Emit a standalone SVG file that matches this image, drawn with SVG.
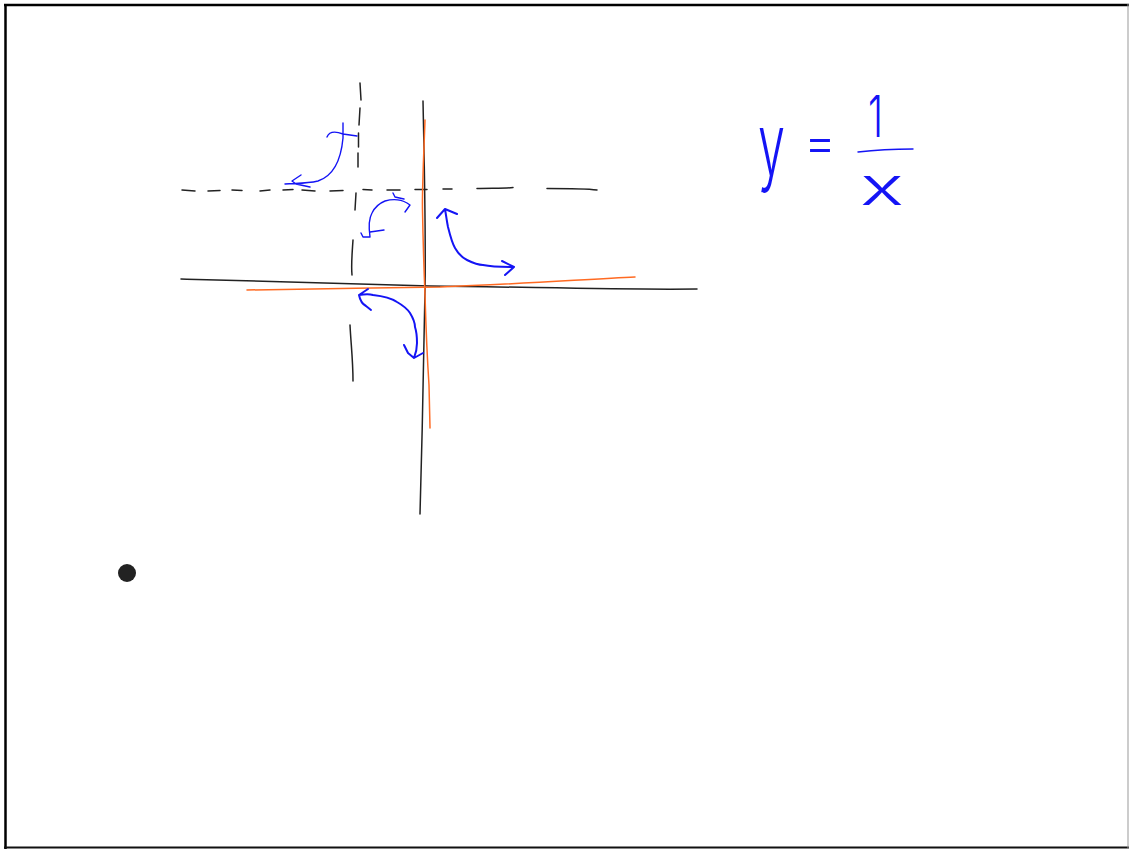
<svg xmlns="http://www.w3.org/2000/svg" width="1129" height="849" viewBox="0 0 1129 849">
<style>
.ink{fill:none;stroke:#222;stroke-width:1.5;stroke-linecap:round;stroke-linejoin:round}
.org{fill:none;stroke:#ff6a22;stroke-width:1.5;stroke-linecap:round;stroke-linejoin:round}
.blu{fill:none;stroke:#1414f5;stroke-width:1.4;stroke-linecap:round;stroke-linejoin:round}
.blu2{fill:none;stroke:#1414f5;stroke-width:2;stroke-linecap:round;stroke-linejoin:round}
.hand{font-family:Inter,"DejaVu Sans",sans-serif;font-weight:300;fill:#1414f5}
</style>
<rect x="0" y="0" width="1129" height="849" fill="#fff"/>
<g id="frame">
<path d="M4,5 H1129" stroke="#000" stroke-width="2.5" fill="none"/>
<path d="M5.5,4 V849" stroke="#000" stroke-width="2.5" fill="none"/>
<path d="M4,847.5 H1129" stroke="#111" stroke-width="2" fill="none"/>
<path d="M1128,4 V849" stroke="#999" stroke-width="1" fill="none"/>
</g>
<g id="asymptotes">
<path class="ink" d="M182,190 L195,191 M208,191 L220,190.5 M232,190 L242,190.5 M260,191 L270,190 M283,190 L293,189.5 M302,190 L315,191 M330,191 L343,190.5 M363,189.5 L372,190 M387,190 L400,190 M415,189.5 L427,189.5 M443,189 L452,189 M477,188.5 C490,188 505,188.5 513,187.5 M547,188.5 C565,188.5 585,188.5 597,190"/>
<path class="ink" d="M360,83 L361,100 M360,108 L359,125 M358.5,133 L358.5,147 M358,153 L358,167 M356,193 L355,210 M353,240 C352,255 351,265 352,275 M350,325 C351,345 353,360 353,381"/>
</g>
<g id="axes">
<path class="ink" d="M423,101 C424,150 426,230 425,290 C424,360 422,440 420,514"/>
<path class="ink" d="M181,279 C280,282 380,285 430,286 C530,287 620,290 697,289"/>
</g>
<g id="graph">
<path class="org" d="M425,120 C424,150 422,190 422.5,210 C423,240 424,270 425,295 C426,330 428,370 429,385 L430,428"/>
<path class="org" d="M247,290 C300,289 380,288 440,287 C520,284 590,279 635,277"/>
</g>
<g id="arrows">
<path class="blu" d="M343,123 L343,138 C341,160 333,176 318,181 C305,184 295,183 285,184 M301,175 L292,181 L296,184 L310,187 M327,137 C329,132 335,131 343,134 L357,136"/>
<path class="blu" d="M370,237 C369,230 368,220 372,213 C375,207 380,203 385,201 C392,199 400,199 407,203 L410,205 L405,212 M393,193 L395,197 L404,199 M361,233 L363,237 L370,237 M370,232 L384,230"/>
<path class="blu2" d="M437,218 L445,209 L457,214 M445,209 C446,215 447,222 448,227 C450,235 452,243 455,248 C459,255 463,258 467,260 C473,263 478,265 483,265 C493,267 503,267 514,267 M502,261 L514,267 L505,275"/>
<path class="blu2" d="M368,289 L359,295 C360,300 362,304 366,306 L371,310 M359,295 C365,294 370,294 373,295 C382,296 391,298 397,302 C404,306 408,310 410,313 C413,318 415,323 415,327 C417,333 417,338 417,343 C417,348 416,353 414,358 M404,345 L408,353 L414,358 L423,353"/>
</g>
<g id="equation">
<text class="hand" x="758" y="175" font-size="86" textLength="27" lengthAdjust="spacingAndGlyphs">y</text>
<text class="hand" x="804" y="160" font-size="50" textLength="32" lengthAdjust="spacingAndGlyphs">=</text>
<text class="hand" x="868" y="137" font-size="58" textLength="15" lengthAdjust="spacingAndGlyphs">1</text>
<path class="blu" d="M858,152 C875,150 895,149 913,149"/>
<text class="hand" x="860" y="205" font-size="52" textLength="44" lengthAdjust="spacingAndGlyphs">x</text>
</g>
<g id="dot">
<circle cx="127" cy="573" r="9" fill="#222"/>
</g>
</svg>
